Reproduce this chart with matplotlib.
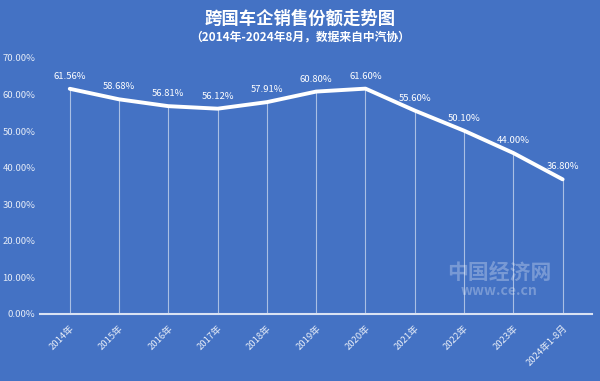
import matplotlib
matplotlib.use('Agg')
import matplotlib.pyplot as plt
from matplotlib.ticker import FuncFormatter

plt.rcParams['font.family'] = ['Noto Sans CJK SC', 'DejaVu Sans']

# data
years = ['2014年', '2015年', '2016年', '2017年', '2018年', '2019年', '2020年',
         '2021年', '2022年', '2023年', '2024年1-8月']
share = [61.56, 58.68, 56.81, 56.12, 57.91, 60.80, 61.60, 55.60, 50.10, 44.00, 36.80]

bg = '#4472C4'
txt = '#E6ECF7'

fig = plt.figure(figsize=(6, 3.81), dpi=100, facecolor=bg)
ax = fig.add_axes([0.067, 0.176, 0.92, 0.672], facecolor=bg)

x = list(range(len(years)))
ax.vlines(x, 0, share, color='white', alpha=0.55, lw=0.8)
ax.plot(x, share, color='white', lw=2.8, solid_capstyle='round')

for xi, v in zip(x, share):
    ax.text(xi, v + 2.2, '%.2f%%' % v, ha='center', va='bottom',
            color='white', fontsize=6.8)

ax.set_xlim(-0.6, len(years) - 0.4)
ax.set_ylim(0, 70)
ax.set_yticks(range(0, 71, 10))
ax.yaxis.set_major_formatter(FuncFormatter(lambda v, p: '%.2f%%' % v))
ax.set_xticks(x)
ax.set_xticklabels(years, rotation=45, ha='right', rotation_mode='anchor')
ax.tick_params(axis='both', length=0, colors=txt, labelsize=6.8)
ax.tick_params(axis='x', pad=7)

for s in ['top', 'right', 'left']:
    ax.spines[s].set_visible(False)
ax.spines['bottom'].set_color('#D9E2F3')
ax.spines['bottom'].set_linewidth(1.5)

fig.text(0.5, 0.952, '跨国车企销售份额走势图', ha='center', va='center',
         color='white', fontsize=12.5, fontweight='bold')
fig.text(0.5, 0.903, '（2014年-2024年8月，数据来自中汽协）', ha='center', va='center',
         color='white', fontsize=8.5, fontweight='bold')

# watermark
fig.text(0.832, 0.285, '中国经济网', ha='center', va='center',
         color='white', alpha=0.28, fontsize=15, fontweight='bold')
fig.text(0.832, 0.235, 'www.ce.cn', ha='center', va='center',
         color='white', alpha=0.28, fontsize=10, fontweight='bold')

plt.savefig('out.png', dpi=100, facecolor=bg)
